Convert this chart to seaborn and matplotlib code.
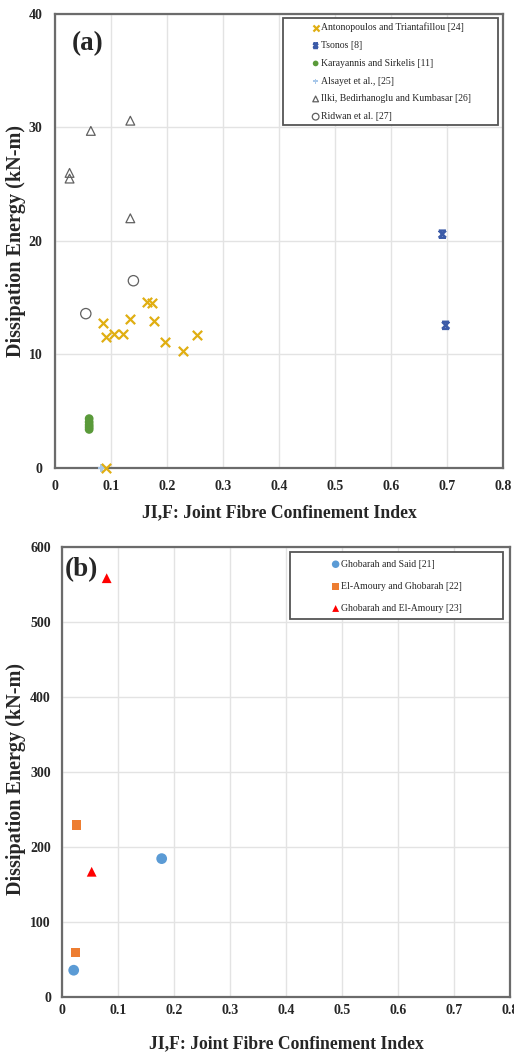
import numpy as np
import pandas as pd
import seaborn as sns
import matplotlib
matplotlib.use("Agg")
import matplotlib.pyplot as plt
from matplotlib.path import Path
from matplotlib.patches import Rectangle

sns.set_theme(style="white")
plt.rcParams['font.family'] = ['Liberation Serif', 'DejaVu Serif']

# ---------------- Panel (a) data ----------------
antono_x = [0.086, 0.0905, 0.106, 0.122, 0.134, 0.164, 0.173, 0.177, 0.196, 0.2286, 0.253, 0.0917]
antono_y = [12.8, 11.57, 11.8, 11.8, 13.1, 14.65, 14.56, 12.95, 11.1, 10.28, 11.7, 0.0]
tsonos_x = [0.6917, 0.6976]
tsonos_y = [20.6, 12.57]
karay_x = [0.061, 0.061, 0.061, 0.061, 0.061]
karay_y = [4.35, 4.05, 3.8, 3.6, 3.4]
alsayet_x = [0.083]
alsayet_y = [0.0]
ilki_x = [0.026, 0.026, 0.064, 0.1345, 0.1345]
ilki_y = [26.0, 25.5, 29.7, 30.6, 22.0]
ridwan_x = [0.055, 0.14]
ridwan_y = [13.6, 16.5]

# ---------------- Panel (b) data ----------------
ghob_said_x = [0.178, 0.0209]
ghob_said_y = [184.5, 35.7]
elam_ghob_x = [0.0262, 0.0239]
elam_ghob_y = [229.5, 59.3]
ghob_elam_x = [0.0798, 0.053]
ghob_elam_y = [558.4, 167.0]

x_ticks = [0, 0.1, 0.2, 0.3, 0.4, 0.5, 0.6, 0.7, 0.8]
x_ticklabels = ["0", "0.1", "0.2", "0.3", "0.4", "0.5", "0.6", "0.7", "0.8"]
ya_ticks = [0, 10, 20, 30, 40]
yb_ticks = [0, 100, 200, 300, 400, 500, 600]
xlabel = "JI,F: Joint Fibre Confinement Index"
ylabel = "Dissipation Energy (kN-m)"

# custom "x with bars" marker (Excel style)
xbar = Path([(-1, -1), (1, 1), (-1, 1), (1, -1), (-1, 1), (1, 1), (-1, -1), (1, -1)],
            [Path.MOVETO, Path.LINETO, Path.MOVETO, Path.LINETO,
             Path.MOVETO, Path.LINETO, Path.MOVETO, Path.LINETO])

fig = plt.figure(figsize=(5.14, 10.55), dpi=100)
axA = fig.add_axes([55/514, 1-468/1055, (503-55)/514, (468-14)/1055])
axB = fig.add_axes([62/514, 1-997/1055, (510-62)/514, (997-547)/1055])

def style_axes(ax, yticks, ylim, xpad, ypad, xlabpad, ylab_xy):
    ax.set_xlim(0, 0.8)
    ax.set_ylim(*ylim)
    ax.set_xticks(x_ticks)
    ax.set_xticklabels(x_ticklabels)
    ax.set_yticks(yticks)
    ax.set_yticklabels([str(t) for t in yticks])
    ax.grid(True, color="#e3e3e3", linewidth=1.0)
    ax.set_axisbelow(True)
    for s in ax.spines.values():
        s.set_visible(True)
        s.set_color("#6b6b6b")
        s.set_linewidth(1.6)
    ax.tick_params(axis="both", length=0, labelsize=10)
    ax.tick_params(axis="x", pad=xpad)
    ax.tick_params(axis="y", pad=ypad)
    for lab in ax.get_xticklabels() + ax.get_yticklabels():
        lab.set_fontweight("bold")
    ax.set_xlabel(xlabel, fontsize=12.7, fontweight="bold", labelpad=xlabpad)
    ax.set_ylabel(ylabel, fontsize=14.5, fontweight="bold")
    ax.yaxis.set_label_coords(*ylab_xy)

# ---- Panel (a) ----
sns.scatterplot(x=antono_x, y=antono_y, ax=axA, marker="x", s=45, color="#e0ae12",
                linewidth=1.6, label="Antonopoulos and Triantafillou [24]", clip_on=False, zorder=4)
sns.scatterplot(x=tsonos_x, y=tsonos_y, ax=axA, marker=xbar, s=26, facecolor="none",
                edgecolor="#3c5ba8", linewidth=1.8, label="Tsonos [8]", zorder=4)
sns.scatterplot(x=karay_x, y=karay_y, ax=axA, marker="o", s=40, color="#5a9a3a",
                edgecolor="none", label="Karayannis and Sirkelis [11]", zorder=4)
sns.scatterplot(x=alsayet_x, y=alsayet_y, ax=axA, marker="P", s=30, color="#a8c8ea",
                edgecolor="none", label="Alsayet et al., [25]", clip_on=False, zorder=3)
sns.scatterplot(x=ilki_x, y=ilki_y, ax=axA, marker="^", s=40, facecolor="none",
                edgecolor="#606060", linewidth=0.9, label="Ilki, Bedirhanoglu and Kumbasar [26]", zorder=4)
sns.scatterplot(x=ridwan_x, y=ridwan_y, ax=axA, marker="o", s=55, facecolor="none",
                edgecolor="#606060", linewidth=0.9, label="Ridwan et al. [27]", zorder=4)
style_axes(axA, ya_ticks, (0, 40), xpad=9, ypad=9, xlabpad=8,
           ylab_xy=((26-55)/448, 0.5))

legA = axA.legend(loc="upper left", bbox_to_anchor=((309-55-6)/448, 1-(15-14)/454),
                  frameon=False, fontsize=7, handletextpad=0.1, handlelength=1.0,
                  labelspacing=0.9, borderpad=0.3, markerscale=0.65)
axA.add_patch(Rectangle(((283-55)/448, 1-(125-14)/454), (498-283)/448, (125-18)/454,
                        transform=axA.transAxes, facecolor="white", edgecolor="#555555",
                        linewidth=1.3, zorder=2.5))
legA.set_zorder(5)
axA.text(0.037, 0.935, "(a)", transform=axA.transAxes, fontsize=19.5, fontweight="bold",
         ha="left", va="center")

# ---- Panel (b) ----
sns.scatterplot(x=ghob_said_x, y=ghob_said_y, ax=axB, marker="o", s=60, color="#5b9bd5",
                edgecolor="none", label="Ghobarah and Said [21]", zorder=4)
sns.scatterplot(x=elam_ghob_x, y=elam_ghob_y, ax=axB, marker="s", s=45, color="#ed7d31",
                edgecolor="none", label="El-Amoury and Ghobarah [22]", zorder=4)
sns.scatterplot(x=ghob_elam_x, y=ghob_elam_y, ax=axB, marker="^", s=50, color="#ff0000",
                edgecolor="none", label="Ghobarah and El-Amoury [23]", zorder=4)
style_axes(axB, yb_ticks, (0, 600), xpad=5, ypad=8, xlabpad=13.5,
           ylab_xy=((26-62)/448, 0.484))

legB = axB.legend(loc="upper left", bbox_to_anchor=((329-62-6)/448, 1-(552-547)/450),
                  frameon=False, fontsize=7, handletextpad=0.1, handlelength=1.0,
                  labelspacing=1.35, borderpad=0.3, markerscale=0.7)
axB.add_patch(Rectangle(((290-62)/448, 1-(619-547)/450), (503-290)/448, (619-552)/450,
                        transform=axB.transAxes, facecolor="white", edgecolor="#555555",
                        linewidth=1.3, zorder=2.5))
legB.set_zorder(5)
axB.text(0.006, 0.95, "(b)", transform=axB.transAxes, fontsize=19.5, fontweight="bold",
         ha="left", va="center")

fig.savefig("out.png", dpi=100)
